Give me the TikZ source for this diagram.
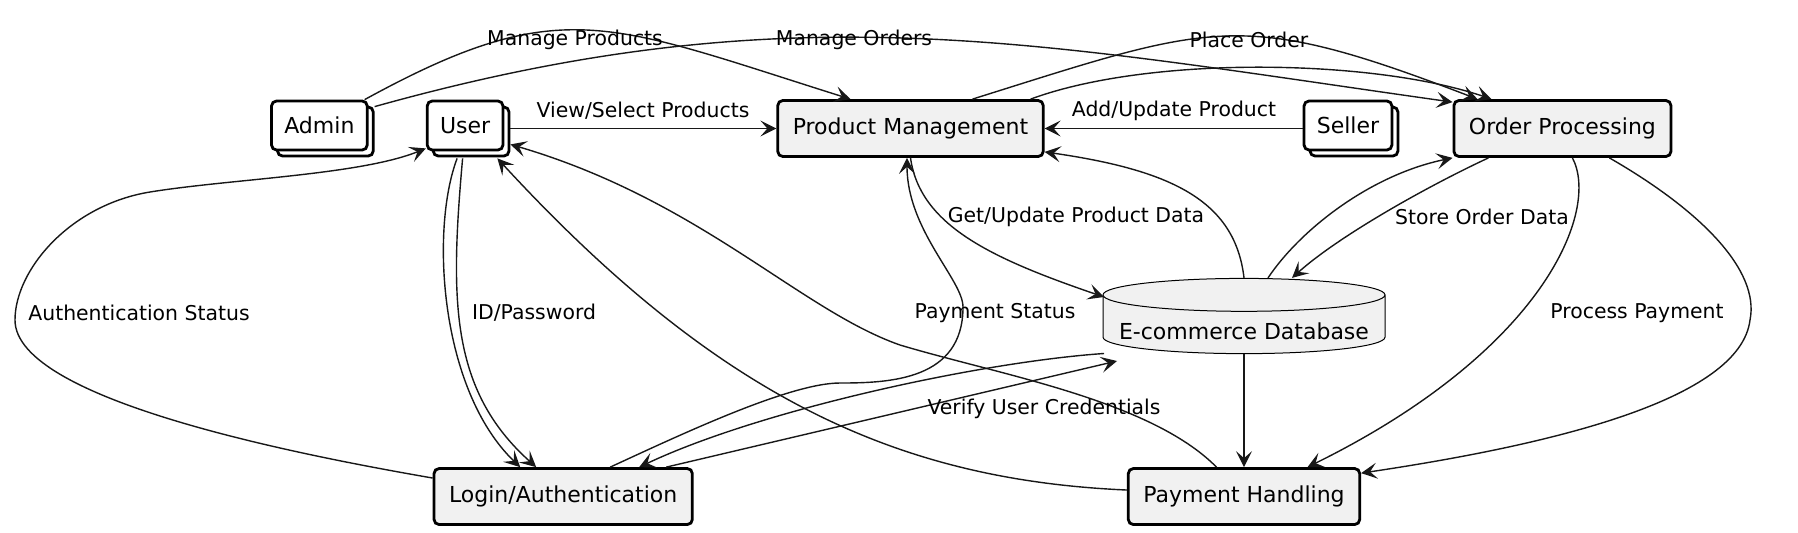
\documentclass[tikz,border=0pt]{standalone}
\usepackage{fontspec}
\setmainfont{DejaVu Sans}
\usetikzlibrary{arrows.meta}
\usetikzlibrary{positioning}
\usetikzlibrary{shadows}
\usetikzlibrary{shapes.geometric}
\definecolor{boxgrey}{HTML}{F1F1F1}
\definecolor{ink}{HTML}{181818}
\tikzset{
  node distance = 30pt and 30pt,
  > = {Stealth[length = 8pt, width = 8pt, inset = 3.5pt]},
  process/.style = {rectangle,
                    draw,
                    line width = 1.4pt,
                    rounded corners = 2.5pt,
                    fill = boxgrey,
                    font = \fontsize{11}{13}\selectfont,
                    inner xsep = 7.5pt,
                    minimum height = 28pt},
  actor/.style = {process,
                  fill = white,
                  inner xsep = 6.4pt,
                  minimum height = 24.5pt,
                  general shadow = {shadow xshift = 3pt,
                                    shadow yshift = -3pt,
                                    draw, fill = white}},
  store/.style = {cylinder,
                  shape border rotate = 90,
                  aspect = 0.125,
                  draw,
                  line width = 0.5pt,
                  fill = boxgrey,
                  font = \fontsize{11}{13}\selectfont,
                  minimum width = 141pt,
                  minimum height = 35.5pt},
  flow/.style = {font = \fontsize{10.2}{12}\selectfont,
                 inner sep = 0pt},
  link/.style = {->,
                 draw = ink,
                 line width = 0.7pt}
}
\begin{document}
\begin{tikzpicture}[x = 0.5pt, y = -0.5pt]

\useasboundingbox (0,0) rectangle (1798,532);

\node[process](prod-mgmt) at (910.5,128.5) {Product Management};

\node[actor](user)[left = 136pt of prod-mgmt, yshift = 1.5pt]{User};

\node[actor](admin)[left = 28.6pt of user]{Admin};

\node[actor](seller)[right = 129pt of prod-mgmt, yshift = 1.5pt]{Seller};

\node[process](order-proc)[right = 29.6pt of seller, yshift = -1.5pt]{Order Processing};

\node[store](e-db)[below = 60pt of prod-mgmt, xshift = 166.75pt]{\raisebox{-2pt}[\height][\depth]{E-commerce Database}};

\node[process](pay-handling)[below = 56.5pt of e-db]{Payment Handling};

\node[process](login-auth)[left = 216.6pt of pay-handling]{Login/Authentication};

% top row
\draw[link] ([xshift = -2pt]admin.north east)
  .. controls (561,-8) and (608,23) .. ([xshift = -30pt]prod-mgmt.north);
\draw[link] ([xshift = 3pt, yshift = -3.5pt]admin.north east)
  .. controls (792,-10) and (1033,43) .. ([yshift = -1.5pt]order-proc.north west);
\draw[link] ([xshift = 3pt]user.east |- prod-mgmt.west) -- (prod-mgmt.west);
\draw[link] (seller.west |- prod-mgmt.east) -- (prod-mgmt.east);
\draw[link] ([xshift = 31pt]prod-mgmt.north)
  .. controls (1215,23) and (1240,8) .. ([xshift = -42.5pt]order-proc.north);
\draw[link] ([xshift = -7pt]prod-mgmt.north east)
  .. controls (1150,55) and (1374,59) .. ([xshift = -35.5pt]order-proc.north);

% database
\draw[link] (prod-mgmt.south)
  .. controls (920,225) and (990,258) .. ([xshift = -70pt, yshift = 15pt]e-db.center);
\draw[link] (e-db.north)
  .. controls (1235,200) and (1170,170) .. ([yshift = 3pt]prod-mgmt.south east);
\draw[link] ([xshift = 12pt]e-db.north)
  .. controls (1300,230) and (1370,175) .. (order-proc.south west);
\draw[link] ([xshift = -37pt]order-proc.south)
  .. controls (1430,185) and (1340,235) .. ([xshift = 24pt]e-db.north);
\draw[link] (e-db) -- (pay-handling);

% payment
\draw[link] ([xshift = 5pt]order-proc.south)
  .. controls (1600,210) and (1545,350) .. ([xshift = 31.75pt]pay-handling.north);
\draw[link] ([xshift = 23.5pt]order-proc.south)
  .. controls (1700,210) and (1760,270) .. (1750,320)
  .. controls (1740,400) and (1550,445) .. ([yshift = -3pt]pay-handling.north east);
\draw[link] ([xshift = -13.75pt]pay-handling.north)
  .. controls (1150,400) and (1000,375) .. (900,345)
  .. controls (800,310) and (700,200) .. ([xshift = 3pt, yshift = 3.5pt]user.south east);
\draw[link] ([yshift = 3.25pt]pay-handling.west)
  .. controls (900,480) and (720,400) .. ([xshift = -3.5pt, yshift = -3.5pt]user.south east);

% login
\draw[link] ([xshift = -4pt, yshift = -3.5pt]user.south)
  .. controls (430,230) and (440,390) .. ([xshift = -21.5pt]login-auth.north);
\draw[link] ([xshift = -1.25pt, yshift = -3.5pt]user.south)
  .. controls (450,300) and (450,390) .. ([xshift = -13.5pt]login-auth.north);
\draw[link] ([yshift = 9.25pt]login-auth.west)
  .. controls (300,455) and (15,400) .. (15,320)
  .. controls (15,270) and (70,205) .. (150,192)
  .. controls (230,179) and (360,175) .. ([yshift = 1.5pt]user.south west);
\draw[link] ([xshift = 51.5pt]login-auth.north) -- ([xshift = -63.5pt, yshift = -17pt]e-db.center);
\draw[link] ([xshift = -70pt, yshift = -13.25pt]e-db.center)
  .. controls (980,362) and (760,410) .. ([xshift = 38pt]login-auth.north);
\draw[link] ([xshift = 23.5pt]login-auth.north)
  .. controls (682,434) and (790,383) .. (840,383)
  .. controls (890,383) and (963,380) .. (963,307)
  .. controls (963,280) and (907,230) .. ([xshift = -1.75pt]prod-mgmt.south);

% labels
\node[flow](lbl-manage-prod) at (575,40) {Manage Products};
\node[flow](lbl-manage-orders) at (854,40) {Manage Orders};
\node[flow](lbl-place-order) at (1249,40) {Place Order};
\node[flow](lbl-view) at (643,111) {View/Select Products};
\node[flow](lbl-add) at (1174,111) {Add/Update Product};
\node[flow](lbl-get) at (1076,217) {Get/Update Product Data};
\node[flow](lbl-store) at (1482,217) {Store Order Data};
\node[flow](lbl-auth) at (139,313) {Authentication Status};
\node[flow](lbl-id) at (534,313) {ID/Password};
\node[flow](lbl-pay-status) at (995,313) {Payment Status};
\node[flow](lbl-process) at (1637,313) {Process Payment};
\node[flow](lbl-verify) at (1044,409) {Verify User Credentials};

\end{tikzpicture}
\end{document}
